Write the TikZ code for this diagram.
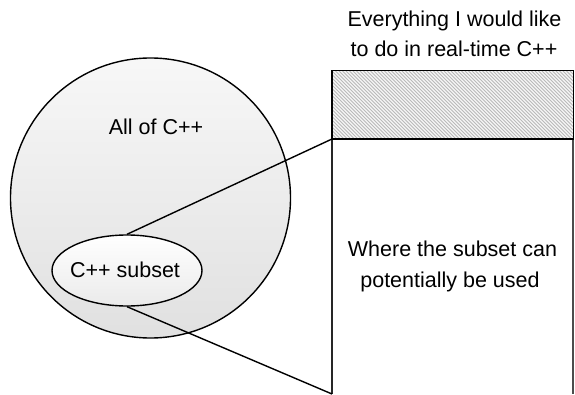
\documentclass[tikz,border=0pt]{standalone}
\usepackage{fontspec}
\setmainfont{Liberation Sans}
\usetikzlibrary{shapes.geometric}
\begin{document}
\begin{tikzpicture}[x=1pt,y=1pt,
  lbl/.style={font=\fontsize{21.5}{33}\selectfont, inner sep=0pt, anchor=base},
  outline/.style={draw=black, line width=1.4pt},
  conn/.style={draw=black, line width=1.4pt}]
\useasboundingbox (0,0) rectangle (575,394);
% big circle
\node[circle, outline, minimum size=280pt, inner sep=0pt,
      top color=gray!6, bottom color=gray!24] (all) at (150.5,196) {};
\node[lbl] (alltxt) at (156,259) {All of C++};
% subset ellipse
\node[ellipse, outline, minimum width=150pt, minimum height=71pt, inner sep=0pt,
      top color=white, bottom color=gray!16] (sub) at (127,123.5) {};
\node[lbl] (subtxt) at (125,117) {C++ subset};
% rectangle (white part)
\coordinate (wtl) at (332,255);
\coordinate (wtr) at (573,255);
\coordinate (wbl) at (332,0);
\coordinate (wbr) at (573,0);
\draw[line width=1.4pt, draw=black!85] (wtl) -- (wbl);
\draw[line width=1.4pt, draw=black!70] (wtr) -- (wbr);
% hatched box
\node[rectangle, minimum width=241pt, minimum height=68pt, inner sep=0pt, anchor=south west] (hatch) at (332,255) {};
\begin{scope}
  \clip (hatch.south west) rectangle (hatch.north east);
  \fill[gray!8] (hatch.south west) rectangle (hatch.north east);
  \foreach \i in {-70,-66.5,...,245} {
    \draw[gray!55, line width=1pt] (332+\i,323) -- ++(68,-68);
  }
\end{scope}
\draw[line width=1.8pt] (hatch.south west) rectangle (hatch.north east);
% connectors
\draw[conn] (sub.north) -- (wtl);
\draw[conn] (sub.south) -- (wbl);
% texts
\node[lbl] (t1) at (454.5,367) {Everything I would like};
\node[lbl] (t2) at (454,337) {to do in real-time C++};
\node[lbl] (w1) at (452.5,138) {Where the subset can};
\node[lbl] (w2) at (450,107) {potentially be used};
\end{tikzpicture}
\end{document}
